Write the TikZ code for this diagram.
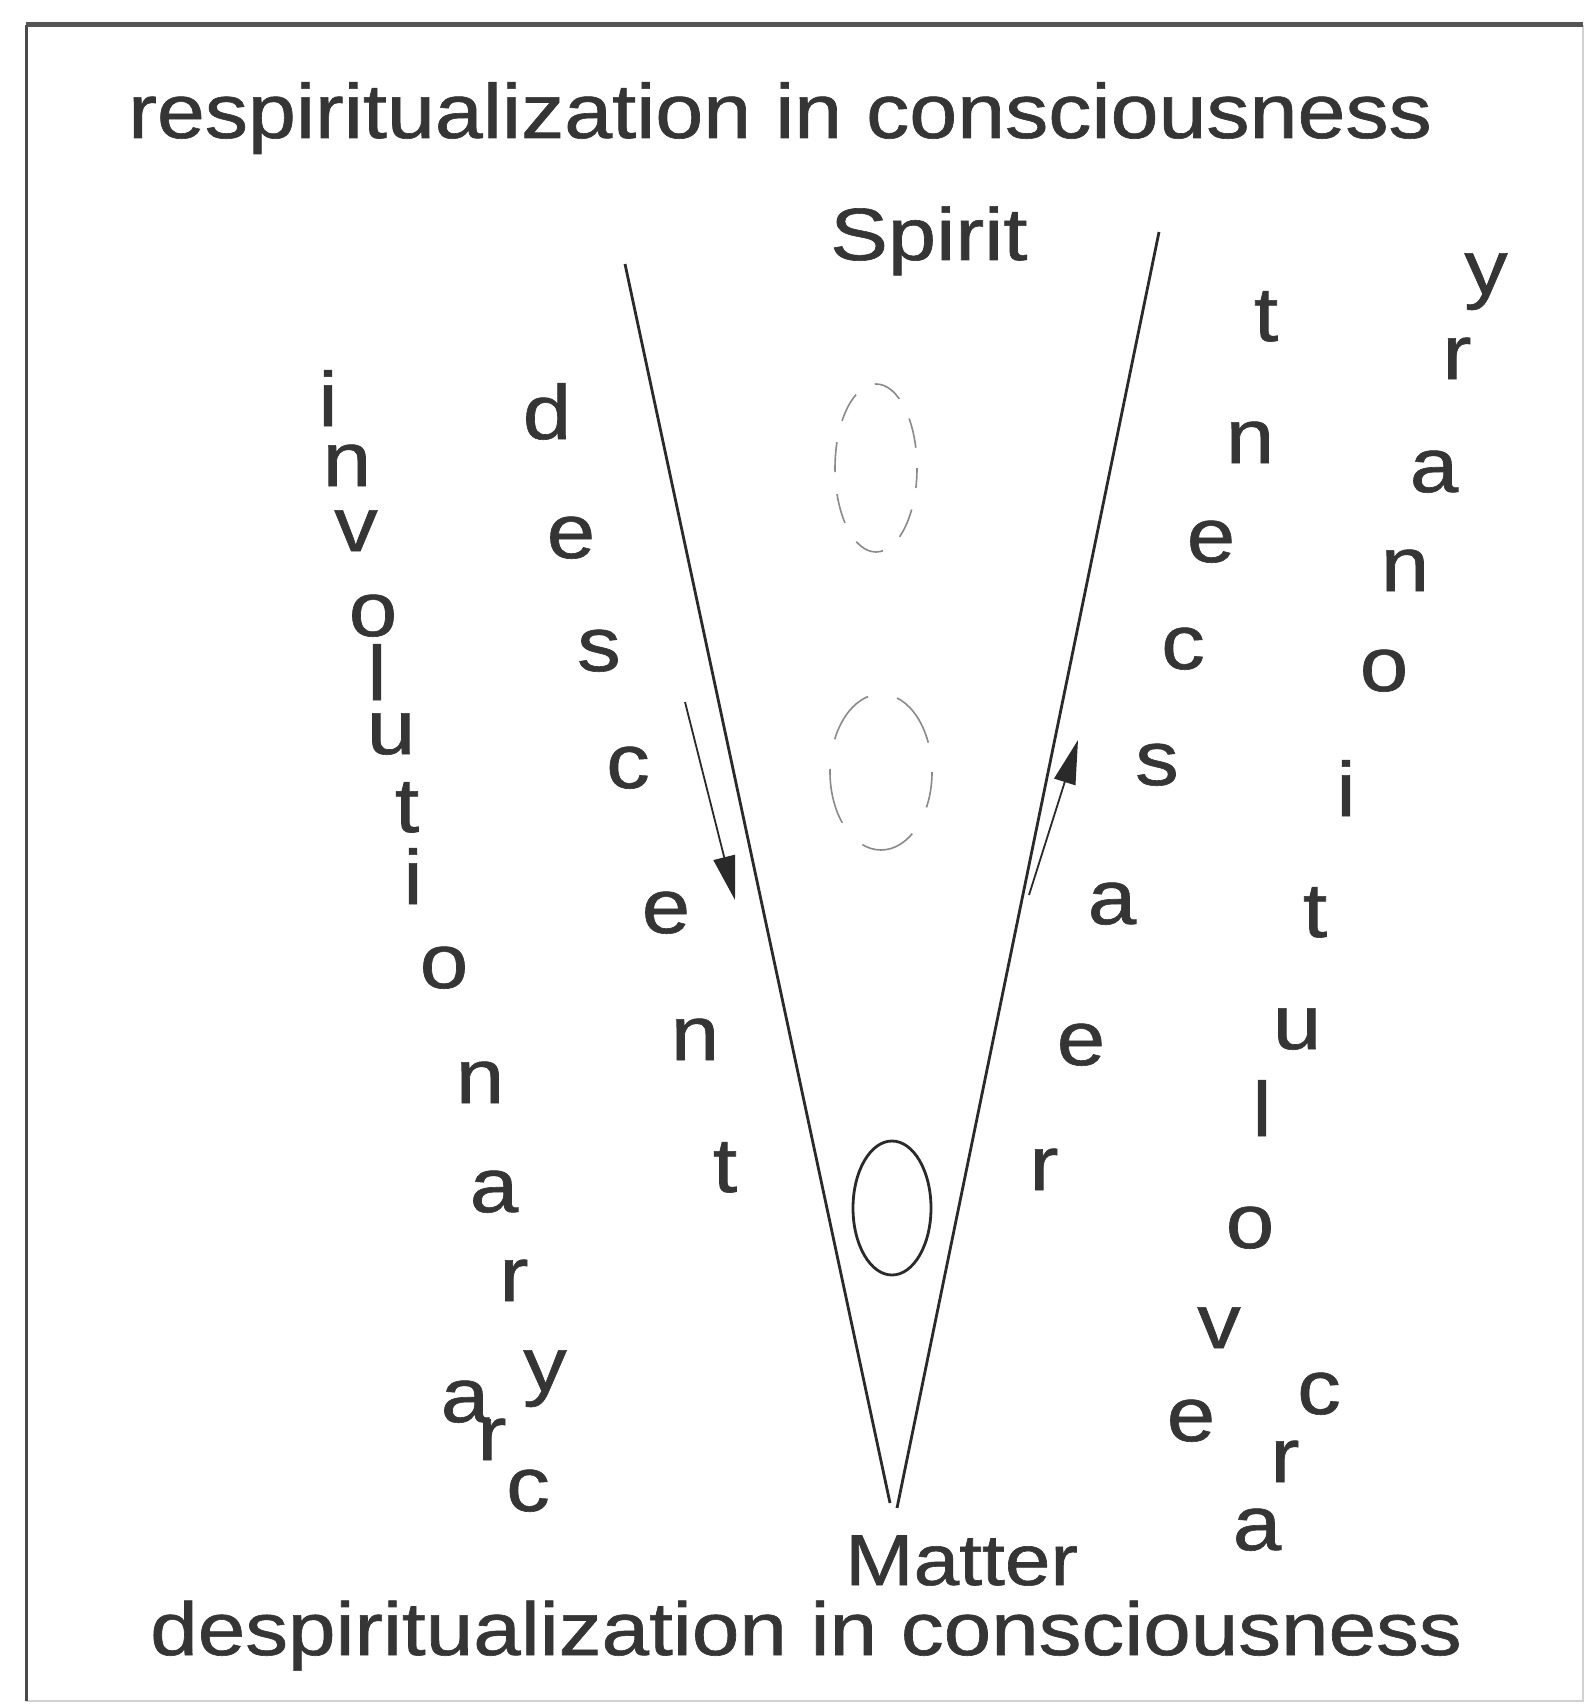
\documentclass[tikz,border=0pt]{standalone}
\usepackage{fontspec}
\setmainfont{Liberation Sans}
\newfontfamily\heavyfont[FakeBold=0.8]{Liberation Sans}
\usepackage{graphicx}
\usetikzlibrary{arrows.meta}
\definecolor{txt}{HTML}{353535}
\definecolor{ink}{HTML}{2A2A2A}
\definecolor{dashgray}{HTML}{8A8A8A}
\newcommand{\wid}[1]{\scalebox{1.13}[1]{#1}}
\newcommand{\ltr}[4]{\node[letter] (#1) at (#2,#3) {\wid{#4}};}
\begin{document}
\begin{tikzpicture}[x=1pt,y=-1pt,
  letter/.style={inner sep=0pt, anchor=base, text=txt, font=\heavyfont\fontsize{77}{80}\selectfont},
  ttl/.style={inner sep=0pt, anchor=base west, text=txt, font=\heavyfont\fontsize{77}{80}\selectfont},
  vline/.style={draw=ink, line width=2.8pt},
  dashell/.style={draw=dashgray, line width=1.6pt},
  arr/.style={draw=ink, line width=1.8pt, -{Triangle[length=44pt,width=22pt]}}
]
\useasboundingbox (0,0) rectangle (1587,1704);
\fill[white] (0,0) rectangle (1587,1704);
% frame
\coordinate (ftl) at (26,25);
\coordinate (ftr) at (1583,25);
\coordinate (fbl) at (26,1701);
\coordinate (fbr) at (1583,1701);
\draw[draw=gray!35, line width=2pt] (ftr) -- (fbr) -- (fbl);
\draw[draw=ink!85, line width=3pt] (fbl) -- (ftl);
\draw[draw=ink!80, line width=5pt] (ftl) -- (ftr);

% titles
\node[ttl] (top) at (128,138) {\scalebox{1.12}[1]{respiritualization in consciousness}};
\node[ttl, font=\heavyfont\fontsize{75}{78}\selectfont] (bottom) at (150,1655) {\scalebox{1.14}[1]{despiritualization in consciousness}};
\node[ttl, font=\heavyfont\fontsize{74}{78}\selectfont] (spirit) at (830,260) {\scalebox{1.17}[1]{Spirit}};
\node[ttl, font=\heavyfont\fontsize{72}{76}\selectfont] (matter) at (845,1585) {\scalebox{1.14}[1]{Matter}};

% V
\coordinate (vlt) at (625,264);
\coordinate (vlb) at (890,1503);
\coordinate (vrt) at (1159,232);
\coordinate (vrb) at (897,1508);
\draw[vline] (vlt) -- (vlb);
\draw[vline] (vrt) -- (vrb);

% ellipses
\coordinate (solid) at (892,1208);
\draw[draw=ink, line width=2.8pt] (solid) ellipse [x radius=39, y radius=67];
\coordinate (d1) at (876,468);
\coordinate (d2) at (881,772);
\draw[dashell, dash pattern=on 30pt off 22pt, dash phase=10pt] (d1) ellipse [x radius=41, y radius=84];
\draw[dashell, dash pattern=on 56pt off 30pt, dash phase=20pt] (d2) ellipse [x radius=51, y radius=78];

% arrows
\coordinate (la1) at (685,702);
\coordinate (la2) at (735,900);
\coordinate (ra1) at (1029,895);
\coordinate (ra2) at (1078,740);
\draw[arr] (la1) -- (la2);
\draw[arr] (ra1) -- (ra2);

% involutionary arc
\ltr{lv1}{328}{426}{i}
\ltr{lv2}{347}{486}{n}
\ltr{lv3}{356}{551}{v}
\ltr{lv4}{373}{636}{o}
\ltr{lv5}{377}{700}{l}
\ltr{lv6}{391}{754}{u}
\ltr{lv7}{407}{832}{t}
\ltr{lv8}{413}{904}{i}
\ltr{lv9}{444}{988}{o}
\ltr{lv10}{480}{1103}{n}
\ltr{lv11}{494}{1212}{a}
\ltr{lv12}{514}{1301}{r}
\ltr{lv13}{545}{1391}{y}
\ltr{lv14}{465}{1422}{a}
\ltr{lv15}{492}{1460}{r}
\ltr{lv16}{528}{1511}{c}

% descent
\ltr{ds1}{547}{439}{d}
\ltr{ds2}{571}{558}{e}
\ltr{ds3}{599}{671}{s}
\ltr{ds4}{628}{788}{c}
\ltr{ds5}{666}{933}{e}
\ltr{ds6}{695}{1060}{n}
\ltr{ds7}{725}{1192}{t}

% reascent
\ltr{ra1l}{1044}{1190}{r}
\ltr{ra2l}{1081}{1065}{e}
\ltr{ra3l}{1112}{924}{a}
\ltr{ra4l}{1157}{785}{s}
\ltr{ra5l}{1183}{669}{c}
\ltr{ra6l}{1211}{562}{e}
\ltr{ra7l}{1250}{463}{n}
\ltr{ra8l}{1266}{341}{t}

% evolutionary arc
\ltr{ev1}{1257}{1550}{a}
\ltr{ev2}{1285}{1482}{r}
\ltr{ev3}{1319}{1414}{c}
\ltr{ev4}{1191}{1441}{e}
\ltr{ev5}{1219}{1348}{v}
\ltr{ev6}{1250}{1248}{o}
\ltr{ev7}{1262}{1136}{l}
\ltr{ev8}{1297}{1049}{u}
\ltr{ev9}{1315}{937}{t}
\ltr{ev10}{1346}{816}{i}
\ltr{ev11}{1384}{691}{o}
\ltr{ev12}{1405}{591}{n}
\ltr{ev13}{1434}{492}{a}
\ltr{ev14}{1457}{379}{r}
\ltr{ev15}{1486}{294}{y}
\end{tikzpicture}
\end{document}
